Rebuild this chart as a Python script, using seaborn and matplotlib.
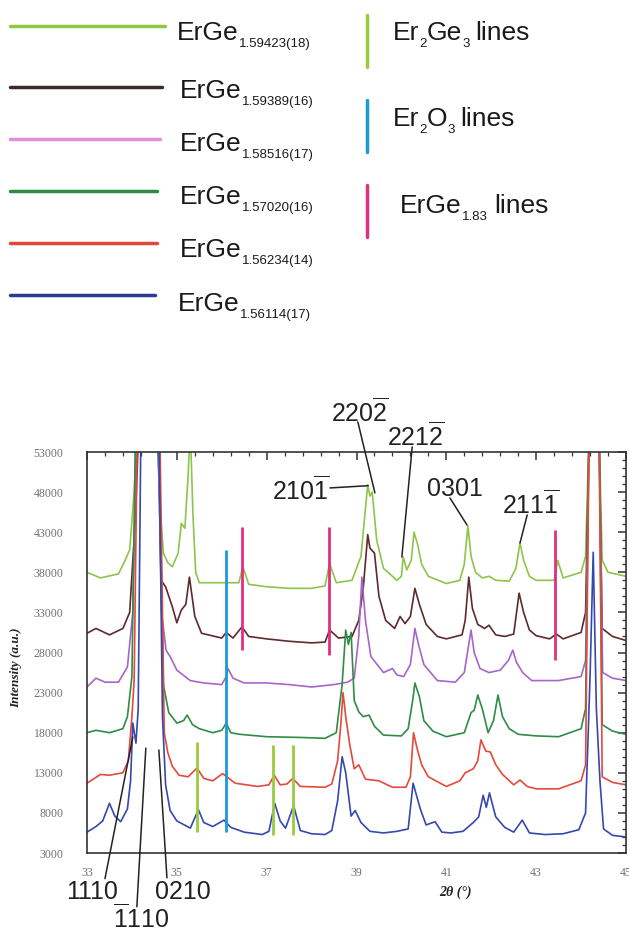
import numpy as np
import pandas as pd
import matplotlib
matplotlib.use('Agg')
import matplotlib.pyplot as plt
import matplotlib.ticker as mticker
from matplotlib.lines import Line2D
from matplotlib.transforms import Affine2D
import seaborn as sns

W, H = 629, 931

# --- data (2theta in degrees, intensity in a.u.) ---
samples = ['ErGe1.59423(18)', 'ErGe1.59389(16)', 'ErGe1.58516(17)',
           'ErGe1.57020(16)', 'ErGe1.56234(14)', 'ErGe1.56114(17)']
sample_subs = ['1.59423(18)', '1.59389(16)', '1.58516(17)',
               '1.57020(16)', '1.56234(14)', '1.56114(17)']

x_59423 = [33.0, 33.3, 33.7, 33.85, 33.95, 34.05, 34.12, 34.55, 34.62, 34.7, 34.8, 34.9,
           35.03, 35.1, 35.18, 35.25, 35.3, 35.36, 35.42, 35.5, 36.0, 36.38, 36.47, 36.6,
           37.0, 37.5, 38.0, 38.3, 38.4, 38.55, 38.9, 39.1, 39.2, 39.25, 39.3, 39.35, 39.45,
           39.6, 39.9, 40.0, 40.04, 40.12, 40.22, 40.28, 40.36, 40.45, 40.6, 41.0, 41.3,
           41.4, 41.48, 41.55, 41.65, 41.8, 41.95, 42.1, 42.4, 42.55, 42.64, 42.72, 42.85,
           43.0, 43.4, 43.48, 43.6, 44.0, 44.1, 44.18, 44.4, 44.47, 44.6, 45.0]
y_59423 = [38000, 37300, 37800, 39500, 40800, 48000, 56000, 56000, 47000, 40400, 39200, 38700,
           40400, 44100, 43500, 50000, 56000, 45000, 38000, 36700, 36700, 36700, 38700, 36500,
           36200, 36000, 36000, 36300, 39100, 36700, 37000, 40000, 46000, 48900, 47500, 48000, 42000,
           38500, 37000, 37500, 39900, 38300, 39500, 43000, 41500, 39000, 37500, 36600, 37000,
           39000, 43800, 40000, 38000, 37300, 37500, 37000, 36900, 38500, 41700, 39500, 37500,
           37000, 37000, 39500, 37300, 38000, 40000, 56000, 56000, 39500, 38000, 37500]

x_59389 = [33.0, 33.2, 33.5, 33.8, 33.95, 34.08, 34.15, 34.58, 34.65, 34.75, 34.9, 35.0,
           35.1, 35.2, 35.28, 35.4, 35.55, 36.0, 36.1, 36.25, 36.45, 36.6, 37.0, 37.5, 38.0,
           38.3, 38.4, 38.6, 38.9, 39.05, 39.15, 39.25, 39.3, 39.4, 39.5, 39.65, 39.85, 39.97,
           40.08, 40.2, 40.3, 40.4, 40.55, 40.8, 41.0, 41.35, 41.42, 41.5, 41.58, 41.7, 41.85,
           41.95, 42.1, 42.3, 42.5, 42.62, 42.72, 42.85, 43.0, 43.3, 43.45, 43.6, 44.0, 44.1,
           44.18, 44.4, 44.47, 44.7, 45.0]
y_59389 = [30400, 31000, 30200, 31000, 33000, 45000, 56000, 56000, 37000, 36200, 33700, 31700,
           33300, 34000, 37400, 32500, 30400, 29800, 30500, 29800, 31200, 30000, 29700, 29400, 29200,
           29300, 30800, 29800, 30000, 32000, 36000, 42700, 41000, 40400, 35000, 32000, 31000, 32500,
           31600, 32500, 36000, 34000, 31500, 30000, 29700, 30200, 32000, 37400, 33500, 31500, 31000,
           31400, 30200, 30000, 30300, 35400, 33000, 30800, 30100, 29700, 30300, 29700, 30500, 33000,
           56000, 56000, 31000, 30000, 29500]

x_58516 = [33.0, 33.2, 33.4, 33.7, 33.9, 34.02, 34.1, 34.58, 34.66, 34.76, 34.86, 35.0,
           35.3, 35.6, 36.0, 36.1, 36.14, 36.25, 36.5, 37.0, 37.5, 38.0, 38.5, 38.8, 38.95,
           39.05, 39.12, 39.2, 39.32, 39.6, 39.8, 39.9, 40.05, 40.2, 40.3, 40.38, 40.5, 40.8,
           41.2, 41.4, 41.55, 41.62, 41.75, 41.95, 42.2, 42.38, 42.48, 42.56, 42.7, 42.9, 43.5,
           44.0, 44.1, 44.18, 44.4, 44.48, 44.7, 45.0]
y_58516 = [23700, 24800, 24300, 24300, 26200, 33000, 56000, 56000, 33000, 28300, 27400, 25800,
           24500, 24200, 24000, 25000, 26000, 24800, 24200, 24200, 24000, 23700, 24000, 24300, 24800,
           30000, 37400, 32000, 27500, 25500, 26000, 25200, 25000, 26500, 31000, 29000, 26500, 24500,
           24300, 25500, 30800, 28000, 26000, 25500, 25800, 27000, 28300, 26800, 25500, 24500, 24500,
           25000, 27000, 56000, 56000, 25500, 24800, 24500]

x_57020 = [33.0, 33.2, 33.5, 33.8, 33.9, 34.0, 34.08, 34.6, 34.7, 34.82, 35.0, 35.15, 35.23,
           35.35, 35.5, 35.8, 36.0, 36.1, 36.2, 36.4, 37.0, 37.8, 38.3, 38.55, 38.68, 38.76,
           38.82, 38.88, 38.95, 39.05, 39.15, 39.28, 39.4, 39.6, 40.0, 40.15, 40.25, 40.3, 40.4,
           40.5, 40.7, 41.0, 41.4, 41.55, 41.62, 41.7, 41.8, 41.93, 42.05, 42.15, 42.25, 42.4,
           42.6, 43.0, 43.5, 44.0, 44.1, 44.18, 44.4, 44.47, 44.7, 45.0]
y_57020 = [18000, 18300, 18000, 18500, 20000, 25000, 56000, 56000, 24000, 20500, 19200, 19500, 20200,
           19000, 18500, 18000, 18300, 19200, 18000, 17800, 17500, 17400, 17300, 18000, 24000, 30800,
           29000, 30500, 22000, 20600, 20000, 20200, 18800, 17700, 17600, 18500, 22000, 24200, 22500,
           19500, 18200, 17500, 18000, 20500, 20800, 22700, 21000, 18000, 19500, 22700, 20000, 18500,
           17800, 17600, 17500, 18500, 21000, 56000, 56000, 19000, 18200, 17800]

x_56234 = [33.0, 33.3, 33.5, 33.8, 33.92, 34.0, 34.05, 34.12, 34.62, 34.72, 34.8, 34.9, 35.05,
           35.25, 35.45, 35.6, 35.8, 36.02, 36.3, 36.8, 37.05, 37.17, 37.3, 37.45, 37.58, 37.75,
           38.3, 38.45, 38.58, 38.65, 38.7, 38.76, 38.85, 38.95, 39.05, 39.2, 39.5, 39.8, 40.1,
           40.2, 40.27, 40.35, 40.45, 40.6, 41.0, 41.3, 41.42, 41.6, 41.7, 41.77, 41.88, 41.98,
           42.1, 42.25, 42.5, 42.64, 42.8, 43.0, 43.5, 44.0, 44.1, 44.18, 44.4, 44.47, 44.7, 45.0]
y_56234 = [11700, 12800, 12700, 13000, 14500, 20000, 24600, 56000, 56000, 18000, 15500, 13800, 12700,
           12500, 13600, 12300, 12000, 12900, 11700, 11300, 11500, 12700, 11500, 11600, 12300, 11300,
           11200, 11600, 14500, 19000, 23000, 20000, 16500, 13500, 14000, 12200, 12000, 11200, 11200,
           12500, 18000, 16000, 14000, 12500, 11300, 12000, 13000, 13500, 14500, 17100, 15700, 15600,
           14000, 12800, 11500, 12100, 11300, 11000, 11000, 12000, 14000, 56000, 56000, 12500, 11800, 11500]

x_56114 = [33.0, 33.2, 33.35, 33.5, 33.62, 33.75, 33.9, 33.97, 34.02, 34.09, 34.14, 34.2, 34.6,
           34.68, 34.75, 34.85, 35.0, 35.3, 35.48, 35.6, 35.8, 36.05, 36.2, 36.5, 36.9, 37.05,
           37.18, 37.3, 37.42, 37.6, 37.75, 38.0, 38.3, 38.45, 38.58, 38.68, 38.76, 38.88, 38.97,
           39.1, 39.3, 39.6, 39.9, 40.15, 40.26, 40.32, 40.42, 40.55, 40.75, 40.9, 41.1, 41.37,
           41.6, 41.72, 41.82, 41.89, 41.96, 42.1, 42.3, 42.5, 42.69, 42.85, 43.2, 43.6, 43.95,
           44.1, 44.2, 44.27, 44.34, 44.42, 44.5, 44.7, 45.0]
y_56114 = [5600, 6300, 7000, 9200, 7600, 6900, 8500, 12000, 19200, 16700, 21000, 56000, 56000,
           20000, 11500, 8300, 7000, 6100, 8400, 6800, 6300, 7100, 6200, 5600, 5300, 5700,
           9200, 7000, 6100, 8900, 5800, 5400, 5300, 5800, 9500, 15000, 13000, 7600, 8300,
           6800, 5700, 5500, 5700, 6000, 11700, 10500, 8500, 6500, 6900, 5600, 5500, 5700,
           6800, 7500, 10200, 8700, 10500, 7500, 6200, 5600, 7100, 5500, 5300, 5400, 5900,
           8000, 25000, 40500, 21000, 12000, 6000, 5200, 5000]

# reference phase lines: position, lower and upper end
er2ge3_pos = [35.45, 37.14, 37.59]
er2ge3_lo = [5600, 5250, 5250]
er2ge3_hi = [16800, 16500, 16500]
er2o3_pos = [36.1]
er2o3_lo = [5600]
er2o3_hi = [40800]
erge183_pos = [36.45, 38.39, 43.42]
erge183_lo = [28300, 27700, 27100]
erge183_hi = [43650, 43650, 43300]

# peak labels: text, text position, leader start, leader end (peak)
peak_labels = [r'$220\overline{2}$', r'$221\overline{2}$', r'$210\overline{1}$', '0301',
               r'$211\overline{1}$', '1110', r'$\overline{1}110$', '0210']
label_x = [39.08, 40.32, 37.76, 41.19, 42.88, 33.11, 34.20, 35.14]
label_y = [57990, 55000, 48270, 48390, 46520, -1900, -5100, -1900]
lead_x0 = [39.03, 40.24, 38.41, 41.08, 42.80, 33.40, 34.11, 34.78]
lead_y0 = [56750, 53630, 48520, 47270, 45150, -200, -3700, -100]
lead_x1 = [39.41, 40.01, 39.26, 41.46, 42.64, 34.02, 34.31, 34.60]
lead_y1 = [47900, 39900, 48800, 43900, 41660, 17470, 16090, 15840]

xs_all = [x_59423, x_59389, x_58516, x_57020, x_56234, x_56114]
ys_all = [y_59423, y_59389, y_58516, y_57020, y_56234, y_56114]

plot_colors = ['#8cc54a', '#5e2a2c', '#a865c9', '#2f8c45', '#e24a3b', '#3548b0']
key_colors = ['#8dc641', '#3b2a2a', '#df8fdc', '#2e8b44', '#e0483a', '#2e3a8f']
ref_colors = ['#9bcb3c', '#1a9ad6', '#e0307e']

sns.set_style('white')
plt.rcParams['font.family'] = ['Liberation Sans', 'DejaVu Sans']
plt.rcParams['mathtext.fontset'] = 'custom'
plt.rcParams['mathtext.rm'] = 'Liberation Sans'
plt.rcParams['mathtext.it'] = 'Liberation Sans'

fig = plt.figure(figsize=(W / 100, H / 100), dpi=100)
ax = fig.add_axes([87 / W, 1 - 853 / H, (626 - 87) / W, (853 - 452) / H])

frames = []
for name, xs, ys in zip(samples, xs_all, ys_all):
    frames.append(pd.DataFrame({'two_theta': xs, 'intensity': ys, 'sample': name}))
df = pd.concat(frames, ignore_index=True)

sns.lineplot(data=df, x='two_theta', y='intensity', hue='sample',
             palette=dict(zip(samples, plot_colors)), estimator=None, sort=False,
             legend=False, lw=1.2, ax=ax)

ax.vlines(er2ge3_pos, er2ge3_lo, er2ge3_hi, color=ref_colors[0], lw=2)
ax.vlines(er2o3_pos, er2o3_lo, er2o3_hi, color=ref_colors[1], lw=2)
ax.vlines(erge183_pos, erge183_lo, erge183_hi, color=ref_colors[2], lw=2)

ax.set_xlim(33, 45)
ax.set_ylim(3000, 53000)
ax.xaxis.set_major_locator(mticker.FixedLocator(np.arange(33, 46, 2)))
ax.xaxis.set_minor_locator(mticker.AutoMinorLocator(5))
ax.yaxis.set_major_locator(mticker.FixedLocator(np.arange(3000, 53001, 5000)))
ax.yaxis.set_minor_locator(mticker.AutoMinorLocator(5))
ax.tick_params(which='both', direction='in', top=True, right=True, colors='#333333',
               labelcolor='#707070', labelsize=8.5)
ax.tick_params(which='major', length=6, width=1.1)
ax.tick_params(which='minor', length=3, width=0.9)
ax.tick_params(axis='x', pad=10)
ax.tick_params(axis='y', pad=17)
for lab in ax.get_xticklabels() + ax.get_yticklabels():
    lab.set_fontfamily('Liberation Serif')
for sp in ax.spines.values():
    sp.set_color('#333333')
    sp.set_linewidth(1.2)

ax.set_xlabel('2θ (°)', fontfamily='Liberation Serif', fontweight='bold', style='italic',
              fontsize=10, color='#222222')
ax.xaxis.set_label_coords(0.683, -0.082)
ax.set_ylabel('Intensity (a.u.)', fontfamily='Liberation Serif', fontweight='bold',
              style='italic', fontsize=9.5, color='#222222')
ax.yaxis.set_label_coords(-0.121, 0.461)

for txt, tx, ty, x0, y0, x1, y1 in zip(peak_labels, label_x, label_y,
                                       lead_x0, lead_y0, lead_x1, lead_y1):
    ax.text(tx, ty, txt, fontsize=18, color='#222222', ha='center', va='center',
            clip_on=False)
    ax.annotate('', xy=(x1, y1), xytext=(x0, y0), annotation_clip=False,
                arrowprops=dict(arrowstyle='-', color='#222222', lw=1.1,
                                shrinkA=0, shrinkB=0))

# --- key area above the plot, laid out in pixels from the top ---
px = Affine2D().scale(1, -1).translate(0, H)
renderer = fig.canvas.get_renderer()


def chain_text(x, y, parts):
    for s, sub, gap in parts:
        x += gap
        t = fig.text(x, y + (7 if sub else 0), s, transform=px,
                     fontsize=9.5 if sub else 19, color='#1a1a1a',
                     ha='left', va='baseline')
        x = t.get_window_extent(renderer=renderer).x1


key_y = [26, 87, 139, 191, 243, 295]
key_x1 = [165, 162, 160, 157, 157, 155]
text_y = [40, 98, 151, 204, 257, 311]
text_x = [177, 180, 180, 180, 180, 178]
for ky, kx1, c, ty, tx, sub in zip(key_y, key_x1, key_colors, text_y, text_x, sample_subs):
    fig.add_artist(Line2D([10, kx1], [ky, ky], transform=px, color=c, lw=2.5))
    chain_text(tx, ty, [('ErGe', False, 0), (sub, True, 0)])

ref_key_y0 = [15, 100, 185]
ref_key_y1 = [67, 152, 237]
for y0, y1, c in zip(ref_key_y0, ref_key_y1, ref_colors):
    fig.add_artist(Line2D([367, 367], [y0, y1], transform=px, color=c, lw=2.5))
chain_text(393, 40, [('Er', False, 0), ('2', True, 0), ('Ge', False, 0), ('3', True, 0),
                     ('lines', False, 6)])
chain_text(393, 126, [('Er', False, 0), ('2', True, 0), ('O', False, 0), ('3', True, 0),
                      ('lines', False, 6)])
chain_text(400, 213, [('ErGe', False, 0), ('1.83', True, 0), ('lines', False, 7)])

fig.savefig('out.png', dpi=100)
